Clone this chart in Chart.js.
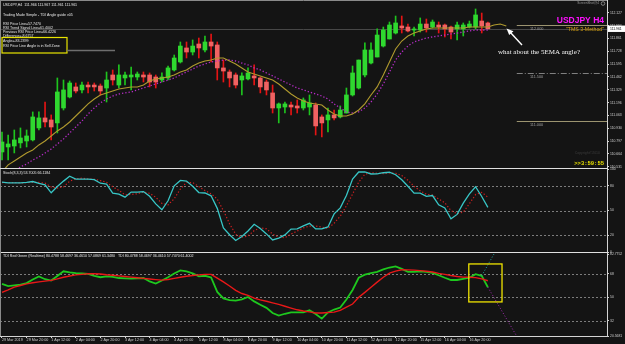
<!DOCTYPE html>
<html><head><meta charset="utf-8">
<script src="https://cdn.jsdelivr.net/npm/chart.js@4/dist/chart.umd.min.js"></script>
<style>
html,body{margin:0;padding:0;background:#141414;width:625px;height:344px;overflow:hidden}
canvas{position:absolute;left:0}
</style></head><body>
<canvas id="cMain" width="625" height="172" style="top:0px"></canvas>
<canvas id="cSto" width="625" height="91" style="top:165px"></canvas>
<canvas id="cTdi" width="625" height="96" style="top:248px"></canvas>
<script>
// ---------------- DATA ----------------
const timeLabels = ["29 Mar 2019","29 Mar 20:00","1 Apr 12:00","2 Apr 04:00","2 Apr 20:00","3 Apr 12:00","4 Apr 04:00","4 Apr 20:00","5 Apr 12:00","8 Apr 04:00","8 Apr 20:00","9 Apr 12:00","10 Apr 04:00","10 Apr 20:00","11 Apr 12:00","12 Apr 04:00","12 Apr 20:00","15 Apr 12:00","16 Apr 04:00","16 Apr 20:00"];
const openP = [110.684,110.736,110.746,110.778,110.798,110.809,110.933,111.037,111.016,110.985,
111.140,111.254,111.358,111.327,111.378,111.378,111.368,111.347,111.482,111.378,
111.451,111.461,111.461,111.482,111.482,111.461,111.430,111.451,111.534,111.617,
111.762,111.720,111.803,111.741,111.824,111.793,111.555,111.513,111.482,111.430,
111.441,111.472,111.451,111.409,111.296,111.140,111.150,111.171,111.161,111.140,
111.150,111.171,111.047,111.016,111.068,111.047,111.088,111.275,111.347,111.482,
111.606,111.668,111.782,111.855,111.917,111.990,111.979,111.948,111.948,112.010,
111.979,112.000,112.000,111.979,111.959,111.959,111.979,111.979,112.041,112.021];
const highP = [110.891,110.860,110.912,110.933,110.912,111.099,111.099,111.202,111.068,111.451,
111.430,111.420,111.399,111.409,111.409,111.399,111.389,111.513,111.534,111.586,
111.513,111.565,111.513,111.513,111.503,111.482,111.503,111.575,111.689,111.824,
111.824,111.845,111.865,111.886,111.907,111.824,111.637,111.534,111.503,111.503,
111.555,111.586,111.461,111.430,111.378,111.192,111.202,111.202,111.223,111.244,
111.275,111.192,111.068,111.140,111.119,111.161,111.347,111.575,111.637,111.814,
111.814,111.959,111.979,112.031,112.093,112.093,112.010,111.979,112.073,112.062,
112.052,112.031,112.010,111.990,112.031,112.021,112.041,112.166,112.124,112.031];
const lowP = [110.601,110.601,110.674,110.726,110.736,110.798,110.912,110.943,110.809,110.881,
111.119,111.244,111.296,111.296,111.296,111.316,111.275,111.202,111.378,111.347,
111.378,111.327,111.430,111.409,111.358,111.347,111.409,111.430,111.523,111.606,
111.658,111.689,111.658,111.720,111.617,111.430,111.409,111.358,111.347,111.275,
111.430,111.378,111.296,111.275,111.088,110.985,111.088,111.068,111.088,111.119,
111.068,110.860,110.840,110.891,111.016,111.037,111.088,111.264,111.337,111.461,
111.596,111.668,111.772,111.855,111.907,111.917,111.927,111.886,111.927,111.927,
111.969,111.917,111.876,111.855,111.845,111.886,111.969,111.959,111.917,111.959];
const closeP = [110.788,110.767,110.809,110.829,110.850,111.047,111.037,110.995,110.943,111.306,
111.327,111.399,111.316,111.378,111.358,111.358,111.316,111.430,111.430,111.482,
111.482,111.482,111.492,111.461,111.409,111.409,111.461,111.555,111.658,111.782,
111.720,111.782,111.762,111.824,111.782,111.555,111.523,111.451,111.378,111.472,
111.503,111.451,111.358,111.327,111.140,111.182,111.182,111.150,111.140,111.223,
111.192,110.954,110.985,111.068,111.037,111.119,111.275,111.503,111.637,111.741,
111.741,111.896,111.948,112.000,112.021,111.969,111.938,111.959,112.010,111.969,
112.031,111.979,111.959,111.927,112.000,112.000,112.010,112.104,111.990,111.961];
const ema5 = [110.477,110.550,110.591,110.632,110.674,110.705,110.757,110.798,110.850,110.902,
110.943,110.995,111.057,111.119,111.182,111.233,111.275,111.296,111.316,111.337,
111.347,111.358,111.358,111.378,111.420,111.441,111.451,111.461,111.482,111.513,
111.534,111.575,111.606,111.627,111.637,111.658,111.658,111.627,111.596,111.555,
111.513,111.492,111.472,111.451,111.430,111.389,111.337,111.285,111.244,111.213,
111.192,111.182,111.171,111.119,111.078,111.057,111.057,111.078,111.119,111.182,
111.275,111.358,111.482,111.617,111.751,111.834,111.886,111.917,111.938,111.959,
111.969,111.969,111.969,111.969,111.969,111.969,111.979,111.979,111.979,111.979,
112.000,112.010,111.990];
const slowMA = [110.415,110.446,110.487,110.529,110.560,110.601,110.632,110.674,110.715,110.767,
110.819,110.881,110.943,111.005,111.078,111.140,111.192,111.233,111.264,111.285,
111.296,111.306,111.327,111.347,111.368,111.389,111.409,111.430,111.451,111.482,
111.513,111.544,111.575,111.596,111.617,111.627,111.637,111.637,111.627,111.606,
111.586,111.555,111.534,111.503,111.472,111.441,111.409,111.378,111.347,111.327,
111.306,111.285,111.264,111.233,111.182,111.140,111.099,111.088,111.099,111.140,
111.202,111.285,111.389,111.513,111.637,111.720,111.782,111.824,111.845,111.865,
111.876,111.886,111.896,111.907,111.917,111.927,111.938,111.948,111.948,111.948];
const stochMain = [84.3,83.2,83.2,83.4,83.9,84.9,82.7,81.0,71.3,78.8,
85.4,91.3,87.9,87.9,87.8,87.1,82.9,81.9,70.9,69.8,
66.1,72.2,72.2,72.8,67.1,58.0,50.8,61.7,79.8,86.2,
85.5,79.2,71.6,71.1,67.7,52.6,29.0,20.8,13.9,18.7,
25.4,33.4,28.4,21.8,14.5,16.7,20.6,27.6,27.8,31.4,
34.5,27.8,27.8,30.2,45.9,53.2,68.1,87.9,96.4,96.4,
94.0,94.1,95.5,96.1,93.1,87.1,79.2,71.0,70.9,67.0,
68.0,56.8,53.0,39.9,45.3,58.9,70.1,78.6,66.9,53.7];
const stochSignal = [83.5,83.6,83.5,83.3,83.5,84.0,83.8,82.9,78.3,77.0,
78.5,85.2,88.2,89.0,87.9,87.6,85.9,84.0,78.6,74.2,
68.9,69.4,70.2,72.4,70.7,66.0,58.6,56.8,64.1,75.9,
83.8,83.6,78.8,74.0,70.1,63.8,49.8,34.1,21.2,17.8,
19.3,25.8,29.1,27.9,21.6,17.7,17.3,21.6,25.3,29.0,
31.2,31.2,30.0,28.6,34.6,43.1,55.7,69.7,84.1,93.6,
95.6,94.8,94.5,95.2,94.9,92.1,86.5,79.1,73.7,69.6,
68.6,63.9,59.3,49.9,46.1,48.0,58.1,69.2,71.9,66.1];
const tdiGreen = [60.2,58.5,59.1,59.7,60.8,63.6,65.9,63.8,62.8,66.3,
69.8,69.0,68.4,68.2,67.8,66.4,65.3,66.0,65.5,64.7,
64.4,64.2,64.5,64.7,62.1,60.5,62.8,65.3,68.2,70.5,
69.8,68.3,66.0,66.4,65.1,54.1,49.2,47.8,47.5,48.4,
50.3,46.9,44.4,42.0,38.1,36.1,37.5,38.6,38.5,38.6,
40.1,37.3,33.8,38.5,40.7,42.2,48.4,55.6,64.9,67.3,
68.5,69.4,71.3,72.7,73.6,71.7,69.4,69.3,69.8,69.3,
68.6,66.8,64.9,63.2,63.2,64.0,64.9,67.6,66.4,57.7];
const tdiRed = [53.7,55.6,57.8,59.0,60.2,61.1,61.8,62.3,62.9,64.1,
65.3,66.2,67.1,67.5,67.9,67.9,67.8,67.2,66.8,66.3,
65.9,65.4,64.9,64.4,64.0,63.5,63.1,63.6,64.4,65.3,
66.0,66.6,67.1,67.5,67.5,64.6,61.7,58.6,55.3,52.9,
51.5,49.4,48.1,47.0,45.8,44.6,43.2,41.8,40.5,39.6,
38.9,38.1,38.1,38.5,38.7,40.1,42.6,44.9,50.0,53.8,
57.7,61.6,65.3,68.4,70.0,71.0,70.9,70.7,70.3,69.8,
69.3,68.2,67.5,66.6,65.9,65.4,65.3,65.0,64.0,62.6];
const tdiUpProjX = [78, 80.6];   const tdiUpProjY = [66.4, 88];
const tdiDownProjX = [79, 84];   const tdiDownProjY = [57.7, 18];
const tdiBoxBars = [75.9, 81.3]; const tdiBoxVals = [46.5, 75.4];
const priceTicks = [112.127,111.994,111.861,111.728,111.595,111.462,111.329,111.196,111.063,110.930,110.797,110.664,110.531];
const stochTicks = [0,20,50,80,100];
const stochLevels = [20,50,80];
const tdiTicks = [20.5681,32,50,68,82.7752];
const tdiLevels = [32,50,68];
const priceLevels = [112.000,111.500,111.000];
const priceLevelStartBar = 83.7;
const infoLines = ["RSI Price Line=57.7470","RSI Trend Signal Line=61.4002","Previous RSI Price Line=66.4226","Difference=-8.6757","Angle=-83.2399","RSI Price Line Angle is in Sell Zone"];

// ---------------- HELPERS ----------------
const FONT = 'Liberation Sans';
Chart.defaults.font.family = FONT;
const X_MIN = -0.325, X_MAX = 98.37;
const AX = '#d4d4d4';
function txt(ctx, s, x, y, font, color, align, base){
  ctx.save(); ctx.font = font; ctx.fillStyle = color; ctx.textAlign = align || 'left';
  ctx.textBaseline = base || 'middle'; ctx.fillText(s, x, y); ctx.restore();
}
function line(ctx, x0, y0, x1, y1, color, w, dash){
  ctx.save(); ctx.strokeStyle = color; ctx.lineWidth = w || 1; ctx.setLineDash(dash || []);
  ctx.beginPath(); ctx.moveTo(x0, y0); ctx.lineTo(x1, y1); ctx.stroke(); ctx.restore();
}
function xHidden(){ return {type:'linear', min:X_MIN, max:X_MAX, display:false, offset:false, grid:{offset:false}}; }
function yAxis(min, max, ticks, fmt){
  return {type:'linear', position:'right', min:min, max:max, offset:false, beginAtZero:false,
    afterBuildTicks: s => { s.ticks = ticks.map(v => ({value:v})); },
    afterFit: s => { s.width = 18; s.paddingTop = 0; s.paddingBottom = 0; },
    ticks:{autoSkip:false, font:{size:3.4, family:FONT}, color:'#cfcfcf', padding:1, callback: v => fmt(v)},
    grid:{drawOnChartArea:false, drawTicks:true, tickLength:2, color:AX},
    border:{display:true, color:AX, width:1}};
}
function pts(xs, ys){ return ys.map((v,i) => ({x: xs ? xs[i] : i, y: v})); }
const baseOpts = {responsive:false, animation:false, events:[], plugins:{legend:{display:false}, tooltip:{enabled:false}}};

// ---------------- MAIN PRICE CHART ----------------
const idx = closeP.map((_, i) => i);
const isUp = idx.map(i => closeP[i] >= openP[i]);
const mainDeco = {
  id:'mainDeco',
  beforeDatasetsDraw(chart){
    const {ctx, chartArea:a, scales:{x, y}} = chart;
    const last = closeP[closeP.length-1];
    const py = Math.round(y.getPixelForValue(last)) + 0.5;
    line(ctx, a.left, py, a.right, py, '#474747', 1);
    const cols = ['#9c9470', '#808080', '#9c9470'];
    const dashes = [[], [6,2,1,2], []];
    priceLevels.forEach((v, k) => {
      const yy = Math.round(y.getPixelForValue(v)) + 0.5;
      line(ctx, x.getPixelForValue(priceLevelStartBar), yy, a.right, yy, cols[k], 1, dashes[k]);
      txt(ctx, v.toFixed(3), 530, yy + 3, '3.8px '+FONT, '#a0a0a0');
    });
  },
  afterDraw(chart){
    const {ctx, chartArea:a, scales:{y}} = chart;
    line(ctx, 0, 0.5, a.right, 0.5, '#8a8a8a', 1);
    line(ctx, 0.5, 0, 0.5, 168, '#8a8a8a', 1);
    line(ctx, 0, 168.5, a.right + 1, 168.5, '#e0e0e0', 1);
    const f = '3.6px ' + FONT, c = '#e6e6e6';
    txt(ctx, 'USDJPY,H4  111.966 111.967 111.961 111.961', 3, 5, f, c);
    txt(ctx, 'Trading Made Simple - TDI Angle guide v05', 3, 15, f, c);
    const ys = [24, 28, 32, 36, 41, 45.5];
    infoLines.forEach((s, k) => txt(ctx, s, 3, ys[k], f, c));
    ctx.save(); ctx.strokeStyle = '#e8e400'; ctx.lineWidth = 1.2; ctx.strokeRect(2, 37.5, 65, 15.5); ctx.restore();
    line(ctx, 67, 50.5, 115, 50.5, '#6e6e6e', 1.5);
    txt(ctx, 'ScreenShot@4', 599, 3.5, '3.2px ' + FONT, '#9a9a9a', 'right');
    ctx.save(); ctx.strokeStyle = '#9a9a9a'; ctx.lineWidth = 0.8; ctx.beginPath(); ctx.arc(603, 3.5, 1.8, 0, Math.PI*2); ctx.stroke(); ctx.restore();
    txt(ctx, 'USDJPY H4', 604, 20.5, 'bold 8.5px ' + FONT, '#ff10ff', 'right');
    txt(ctx, '"TMS 3-Method"', 604, 30, '5.2px ' + FONT, '#d9a514', 'right');
    txt(ctx, 'what about the 5EMA angle?', 498, 52, '7px Liberation Serif', '#f4f4f4');
    line(ctx, 522, 45, 510, 32, '#ffffff', 1.4);
    ctx.save(); ctx.fillStyle = '#ffffff'; ctx.beginPath();
    ctx.moveTo(506.5, 28.5); ctx.lineTo(513.5, 31.2); ctx.lineTo(509.2, 35); ctx.closePath(); ctx.fill(); ctx.restore();
    txt(ctx, 'Copyright\u00a92010', 600, 153, '3.5px ' + FONT, '#3c3c3c', 'right');
    txt(ctx, '>>3:59:55', 604, 164, 'bold 5.5px Liberation Mono', '#e8e000', 'right');
    const last = closeP[closeP.length-1];
    const py = y.getPixelForValue(last);
    ctx.save(); ctx.fillStyle = '#ffffff'; ctx.fillRect(608, py - 3.2, 17, 6.4); ctx.restore();
    txt(ctx, last.toFixed(3), 610, py + 0.2, '3.4px ' + FONT, '#000000');
  }
};
new Chart(document.getElementById('cMain'), {
  type:'line',
  data:{datasets:[
    {type:'line', data: pts(null, ema5), borderColor:'#b09a2e', borderWidth:1.1, pointRadius:0, order:0},
    {type:'line', data: pts(null, slowMA), borderColor:'#b42cc4', borderWidth:1.3, borderDash:[1.3,2], pointRadius:0, order:0},
    {type:'bar', data: idx.map(i => ({x:i, y:[openP[i], closeP[i]]})), backgroundColor: idx.map(i => isUp[i] ? '#2fd82f' : '#f06262'), barThickness:4, grouped:false, borderWidth:0, order:1},
    {type:'bar', data: idx.map(i => ({x:i, y:[lowP[i], highP[i]]})), backgroundColor: idx.map(i => isUp[i] ? '#1ec41e' : '#e41414'), barThickness:1, grouped:false, borderWidth:0, order:2}
  ]},
  options: Object.assign({}, baseOpts, {
    layout:{padding:{top:0, bottom:4, left:0, right:0}},
    scales:{ x: xHidden(), y: yAxis(110.518, 112.259, priceTicks, v => v.toFixed(3)) }
  }),
  plugins:[mainDeco]
});

// ---------------- STOCHASTIC ----------------
const stoDeco = {
  id:'stoDeco',
  beforeDatasetsDraw(chart){
    const {ctx, chartArea:a, scales:{y}} = chart;
    stochLevels.forEach(v => { const yy = Math.round(y.getPixelForValue(v)) + 0.5; line(ctx, a.left, yy, a.right, yy, '#7c7c7c', 1, [2,2]); });
  },
  afterDraw(chart){
    const {ctx, chartArea:a} = chart;
    line(ctx, 0.5, a.top, 0.5, a.bottom, '#8a8a8a', 1);
    txt(ctx, 'Stoch(8,3,3) 53.7005 66.1184', 3, a.top + 3.5, '3.6px ' + FONT, '#e6e6e6');
  }
};
new Chart(document.getElementById('cSto'), {
  type:'line',
  data:{datasets:[
    {data: pts(null, stochMain), borderColor:'#38c6c6', borderWidth:1.3, pointRadius:0},
    {data: pts(null, stochSignal), borderColor:'#cc2020', borderWidth:1.2, borderDash:[1.3,2], pointRadius:0}
  ]},
  options: Object.assign({}, baseOpts, {
    layout:{padding:{top:4, bottom:4, left:0, right:0}},
    scales:{ x: xHidden(), y: yAxis(0, 100, stochTicks, v => String(v)) }
  }),
  plugins:[stoDeco]
});

// ---------------- TDI ----------------
const tdiDeco = {
  id:'tdiDeco',
  beforeDatasetsDraw(chart){
    const {ctx, chartArea:a, scales:{y}} = chart;
    tdiLevels.forEach(v => { const yy = Math.round(y.getPixelForValue(v)) + 0.5; line(ctx, a.left, yy, a.right, yy, '#7c7c7c', 1, [2,2]); });
  },
  afterDraw(chart){
    const {ctx, chartArea:a, scales:{x, y}} = chart;
    line(ctx, 0, a.top + 0.5, a.right + 1, a.top + 0.5, '#e0e0e0', 1);
    line(ctx, 0.5, a.top, 0.5, a.bottom, '#8a8a8a', 1);
    txt(ctx, 'TDI Red Green (Realtime) 80.4788 58.4697 36.4610 57.0869 61.3480   TDI 80.4788 58.4697 36.4610 57.7470 61.4002', 3, a.top + 3.5, '3.6px ' + FONT, '#e6e6e6');
    const x0 = x.getPixelForValue(tdiBoxBars[0]), x1 = x.getPixelForValue(tdiBoxBars[1]);
    const y0 = y.getPixelForValue(tdiBoxVals[1]), y1 = y.getPixelForValue(tdiBoxVals[0]);
    ctx.save(); ctx.strokeStyle = '#f0e400'; ctx.lineWidth = 1.3; ctx.strokeRect(x0, y0, x1 - x0, y1 - y0); ctx.restore();
  }
};
new Chart(document.getElementById('cTdi'), {
  type:'line',
  data:{datasets:[
    {data: pts(tdiUpProjX, tdiUpProjY), borderColor:'#1fa4a4', borderWidth:1, borderDash:[1,2], pointRadius:0},
    {data: pts(tdiDownProjX, tdiDownProjY), borderColor:'#a02ab0', borderWidth:1, borderDash:[1,2], pointRadius:0},
    {data: pts(null, tdiRed), borderColor:'#e81818', borderWidth:1.4, pointRadius:0},
    {data: pts(null, tdiGreen), borderColor:'#1ec81e', borderWidth:1.8, pointRadius:0}
  ]},
  options: Object.assign({}, baseOpts, {
    layout:{padding:{top:4, bottom:0, left:0, right:0}},
    scales:{
      x:{type:'linear', position:'bottom', min:X_MIN, max:X_MAX, offset:false,
        afterBuildTicks: s => { s.ticks = timeLabels.map((_, k) => ({value: k*4})); },
        afterFit: s => { s.height = 8; s.paddingLeft = 0; s.paddingRight = 0; },
        ticks:{autoSkip:false, maxRotation:0, minRotation:0, align:'start', padding:0, font:{size:3.7, family:FONT}, color:'#cfcfcf',
          callback: (v, i) => timeLabels[i]},
        grid:{drawOnChartArea:false, drawTicks:true, tickLength:2, color:AX, offset:false},
        border:{display:true, color:AX, width:1}},
      y: yAxis(20.5681, 84.5, tdiTicks, v => Number.isInteger(v) ? String(v) : v.toFixed(4))
    }
  }),
  plugins:[tdiDeco]
});
</script>
</body></html>
